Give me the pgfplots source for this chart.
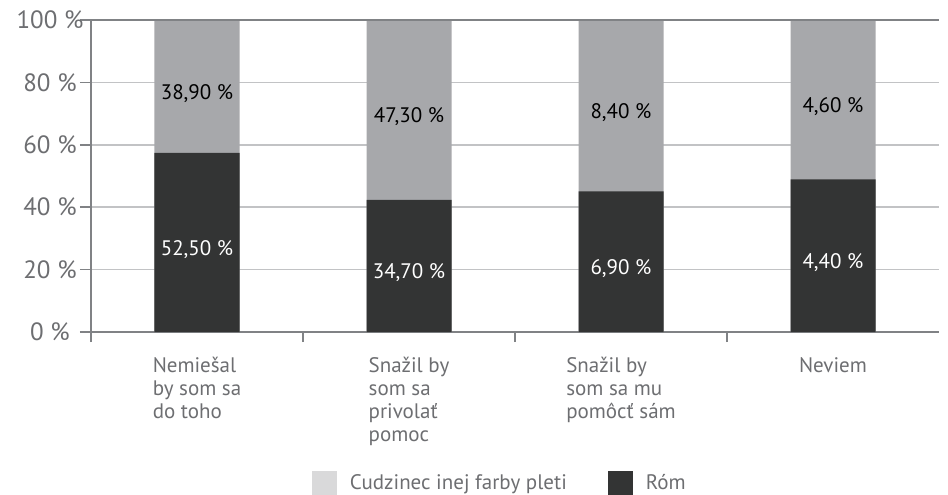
\documentclass[border=0pt]{standalone}
\usepackage{pgfplots}
\pgfplotsset{compat=1.18}
\usepackage{fontspec}
\setmainfont{PT Sans}
\definecolor{darkbar}{HTML}{333434}
\definecolor{midgray}{HTML}{A7A8AB}
\definecolor{lightsw}{HTML}{D9D9DA}
\definecolor{txtgray}{HTML}{6D6E71}
\definecolor{axgray}{HTML}{808285}
\definecolor{gridgray}{HTML}{C2C3C5}
\begin{document}
\begin{tikzpicture}
\useasboundingbox (-91pt,-163pt) rectangle (857pt,332pt);
\begin{axis}[
  at={(0pt,0pt)}, anchor=south west,
  width=848pt, height=312pt, scale only axis,
  xmin=-0.5, xmax=3.5, ymin=0, ymax=100,
  axis lines*=left,
  axis line style={-, axgray, line width=2pt},
  ytick={0,20,40,60,80,100},
  yticklabels={0 \%, 20 \%, 40 \%, 60 \%, 80 \%, 100 \%},
  yticklabel style={font=\fontsize{25}{29}\selectfont, text=txtgray, anchor=center, xshift=-30pt},
  ymajorgrids,
  grid style={gridgray, line width=1.5pt},
  tick align=outside,
  major tick length=11pt,
  minor tick length=10pt,
  tick style={axgray, line width=1.5pt},
  major x tick style={draw=none},
  xtick={0,1,2,3},
  minor xtick={-0.5,0.5,1.5,2.5},
  xticklabels={{Nemiešal\\by som sa\\do toho},{Snažil by\\som sa\\privolať\\pomoc},{Snažil by\\som sa mu\\pomôcť sám},{Neviem}},
  xticklabel style={font=\fontsize{21}{23}\selectfont, text=txtgray, align=left, anchor=north, yshift=-11pt},
  legend style={at={(0.2606,-0.484)}, anchor=west, draw=none, fill=none, inner sep=0pt, outer sep=0pt,
    font=\fontsize{21}{23}\selectfont, text=txtgray, nodes={inner sep=0pt},
    /tikz/every odd column/.append style={column sep=13pt},
    /tikz/every even column/.append style={column sep=41pt}},
  legend columns=2,
  clip=false,
]
\addplot[ybar, bar width=85pt, bar shift=0pt, fill=midgray, draw=none,
  legend image code/.code={\fill[lightsw] (0pt,-12.5pt) rectangle (25pt,12.5pt);}]
  coordinates {(0,100) (1,100) (2,100) (3,100)};
\addlegendentry{Cudzinec inej farby pleti}
\addplot[ybar, bar width=85pt, bar shift=0pt, fill=darkbar, draw=none,
  legend image code/.code={\fill[darkbar] (0pt,-12.5pt) rectangle (25pt,12.5pt);}]
  coordinates {(0,57.44) (1,42.32) (2,45.10) (3,48.89)};
\addlegendentry{Róm}
\draw[axgray, line width=1.5pt] (axis cs:-0.5,100) -- (axis cs:3.5,100);
% labels in the light segments
\addplot[draw=none, mark=none, nodes near coords, point meta=explicit symbolic, forget plot,
  every node near coord/.append style={anchor=center, text=black, yshift=-7pt, font=\fontsize{21}{23}\selectfont}]
  coordinates {(0,78.72) [38,90 \%] (1,71.16) [47,30 \%] (2,72.55) [8,40 \%] (3,74.45) [4,60 \%]};
% labels in the dark segments
\addplot[draw=none, mark=none, nodes near coords, point meta=explicit symbolic, forget plot,
  every node near coord/.append style={anchor=center, text=white, yshift=-7pt, font=\fontsize{21}{23}\selectfont}]
  coordinates {(0,28.72) [52,50 \%] (1,21.16) [34,70 \%] (2,22.55) [6,90 \%] (3,24.45) [4,40 \%]};
\end{axis}
\end{tikzpicture}
\end{document}
